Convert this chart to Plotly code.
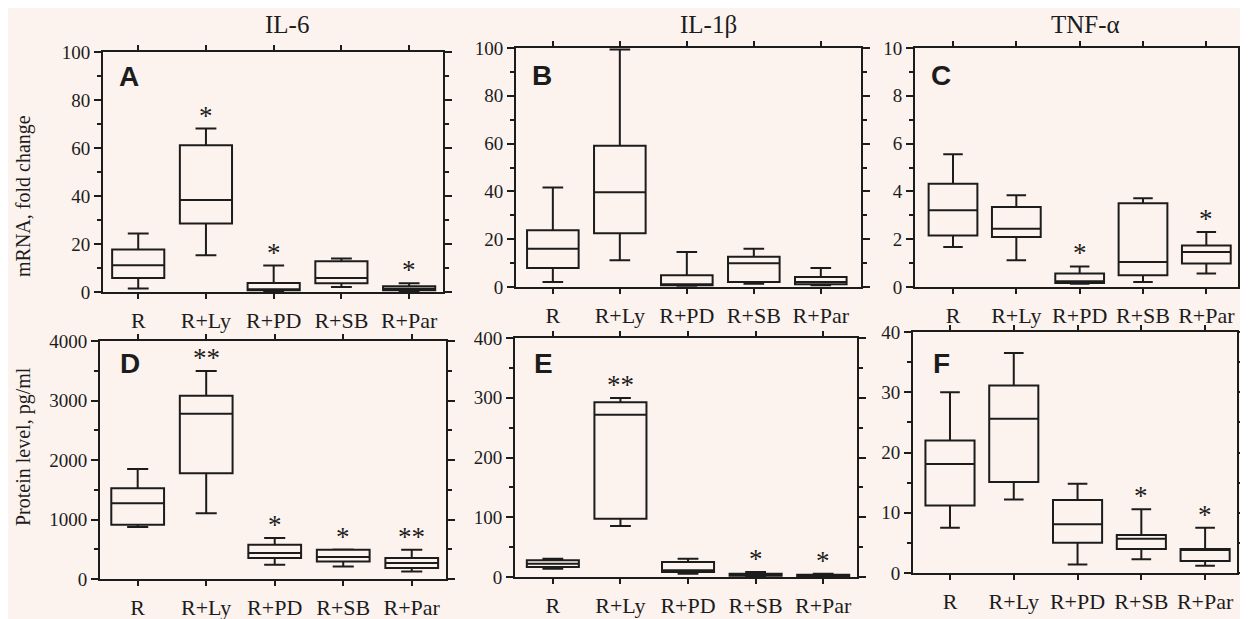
import plotly.graph_objects as go

# ---------------- data ----------------
categories = ["R", "R+Ly", "R+PD", "R+SB", "R+Par"]
col_titles = ["IL-6", "IL-1β", "TNF-α"]
panel_letters = ["A", "B", "C", "D", "E", "F"]
y_titles = ["mRNA, fold change", "Protein level, pg/ml"]

# each panel: lower whisker, q1, median, q3, upper whisker (per category)
A_low = [1.5, 15.3, 0.4, 2.1, 0.4]
A_q1 = [5.8, 28.5, 0.7, 3.6, 0.7]
A_med = [11.1, 38.3, 1.0, 5.8, 1.4]
A_q3 = [17.7, 61.1, 3.8, 12.8, 2.4]
A_up = [24.4, 68.1, 11.0, 14.0, 3.6]
A_stars = ["", "*", "*", "", "*"]

B_low = [2.1, 11.2, 0.5, 1.4, 0.7]
B_q1 = [8.0, 22.5, 0.7, 2.1, 1.1]
B_med = [16.0, 39.6, 1.0, 9.9, 2.1]
B_q3 = [23.7, 59.1, 4.9, 12.7, 4.2]
B_up = [41.6, 99.4, 14.6, 16.0, 8.0]
B_stars = ["", "", "", "", ""]

C_low = [1.67, 1.12, 0.14, 0.21, 0.56]
C_q1 = [2.16, 2.09, 0.17, 0.49, 0.98]
C_med = [3.21, 2.44, 0.24, 1.05, 1.46]
C_q3 = [4.32, 3.35, 0.56, 3.50, 1.74]
C_up = [5.55, 3.84, 0.86, 3.71, 2.30]
C_stars = ["", "", "*", "", "*"]

D_low = [872, 1106, 240, 212, 128]
D_q1 = [911, 1777, 352, 296, 184]
D_med = [1274, 2777, 436, 369, 268]
D_q3 = [1525, 3078, 575, 490, 352]
D_up = [1849, 3497, 687, 495, 492]
D_stars = ["", "**", "*", "*", "**"]

E_low = [13.9, 85.4, 5.6, 1.1, 1.1]
E_q1 = [16.7, 97.6, 8.4, 2.2, 1.7]
E_med = [22.3, 271.7, 11.2, 3.9, 2.8]
E_q3 = [27.9, 292.3, 25.1, 5.6, 3.9]
E_up = [30.7, 299.6, 30.7, 8.4, 5.6]
E_stars = ["", "**", "", "*", "*"]

F_low = [7.5, 12.2, 1.4, 2.3, 1.2]
F_q1 = [11.2, 15.1, 5.0, 4.0, 2.0]
F_med = [18.1, 25.6, 8.1, 5.7, 3.8]
F_q3 = [22.0, 31.1, 12.1, 6.3, 4.0]
F_up = [30.0, 36.5, 14.8, 10.6, 7.5]
F_stars = ["", "", "", "*", "*"]

y_ranges = [[0, 100], [0, 100], [0, 10], [0, 4000], [0, 400], [0, 40]]
y_dticks = [20, 20, 2, 1000, 100, 10]
y_minor = [10, 10, 1, 500, 50, 5]

panels = [
    (A_low, A_q1, A_med, A_q3, A_up, A_stars),
    (B_low, B_q1, B_med, B_q3, B_up, B_stars),
    (C_low, C_q1, C_med, C_q3, C_up, C_stars),
    (D_low, D_q1, D_med, D_q3, D_up, D_stars),
    (E_low, E_q1, E_med, E_q3, E_up, E_stars),
    (F_low, F_q1, F_med, F_q3, F_up, F_stars),
]

# ---------------- layout geometry (pixels, screen coords) ----------------
W, H = 1248, 619
OFF = 8  # page body margin offset
px_boxes = [  # x0, x1, ytop, ybottom
    (103, 443, 52, 292),
    (516, 861, 48, 287),
    (915, 1238, 48, 287),
    (100, 446, 341, 579),
    (515, 857, 338, 577),
    (913, 1237, 332, 573),
]
x_ranges = [[-0.52, 4.5], [-0.55, 4.6], [-0.6, 4.5],
            [-0.55, 4.5], [-0.56, 4.5], [-0.58, 4.5]]
letter_pos = [(0.041, 0.90), (0.04, 0.887), (0.043, 0.883),
              (0.052, 0.907), (0.05, 0.895), (0.056, 0.87)]

BG = "#fcf3ef"
INK = "#1c1c1c"
SERIF = "Liberation Serif, Times New Roman, serif"
SANS = "Liberation Sans, Arial, sans-serif"


def fx(p):
    return (p - OFF) / W


def fy(p):
    return 1 - (p - OFF) / H


fig = go.Figure()
annotations = []

for i, (low, q1, med, q3, up, stars) in enumerate(panels):
    n = i + 1
    xa = "x" if n == 1 else f"x{n}"
    ya = "y" if n == 1 else f"y{n}"
    fig.add_trace(go.Box(
        x=categories, q1=q1, median=med, q3=q3,
        lowerfence=low, upperfence=up,
        xaxis=xa, yaxis=ya,
        width=0.77, whiskerwidth=0.4,
        fillcolor="rgba(0,0,0,0)",
        line=dict(color=INK, width=2),
        boxpoints=False, showlegend=False, hoverinfo="skip",
    ))
    for c, s, u in zip(categories, stars, up):
        if s:
            annotations.append(dict(
                x=c, y=u, xref=xa, yref=ya, text=s, showarrow=False,
                yanchor="bottom", xanchor="center", yshift=-4,
                font=dict(family=SERIF, size=27, color=INK)))
    x0, x1, yt, yb = px_boxes[i]
    ax_key = "xaxis" if n == 1 else f"xaxis{n}"
    ay_key = "yaxis" if n == 1 else f"yaxis{n}"
    fig.update_layout({
        ax_key: dict(
            domain=[fx(x0), fx(x1)], anchor=ya, type="category",
            range=x_ranges[i], showline=True, linewidth=2, linecolor=INK,
            mirror="allticks", ticks="outside", ticklen=5, tickwidth=1.5,
            tickcolor=INK, showgrid=False, zeroline=False, automargin=False,
            ticklabelstandoff=3,
            tickfont=dict(family=SERIF, size=22, color=INK),
            categoryorder="array", categoryarray=categories,
        ),
        ay_key: dict(
            domain=[fy(yb), fy(yt)], anchor=xa, automargin=False,
            range=y_ranges[i], dtick=y_dticks[i], tick0=0,
            showline=True, linewidth=2, linecolor=INK,
            mirror="allticks", ticks="outside", ticklen=7, tickwidth=2,
            tickcolor=INK, showgrid=False, zeroline=False,
            tickfont=dict(family=SERIF, size=19, color=INK),
            minor=dict(dtick=y_minor[i], ticks="outside", ticklen=4,
                       tickwidth=1.5, tickcolor=INK, showgrid=False),
        ),
    })
    lx, ly = letter_pos[i]
    annotations.append(dict(
        x=lx, y=ly, xref=f"{xa} domain", yref=f"{ya} domain",
        text=f"<b>{panel_letters[i]}</b>", showarrow=False,
        xanchor="left", yanchor="middle",
        font=dict(family=SANS, size=28, color=INK)))

# column titles
title_x = [287, 708, 1085]
for t, cx in zip(col_titles, title_x):
    annotations.append(dict(
        x=fx(cx), y=fy(25), xref="paper", yref="paper", text=t,
        showarrow=False, xanchor="center", yanchor="middle",
        font=dict(family=SERIF, size=25, color=INK)))

# y-axis titles
for t, cy in zip(y_titles, [196, 447]):
    annotations.append(dict(
        x=fx(23), y=fy(cy), xref="paper", yref="paper", text=t,
        showarrow=False, xanchor="center", yanchor="middle", textangle=-90,
        font=dict(family=SERIF, size=20, color=INK)))

fig.update_layout(
    width=W, height=H, margin=dict(l=0, r=0, t=0, b=0, autoexpand=False),
    paper_bgcolor=BG, plot_bgcolor="rgba(0,0,0,0)",
    annotations=annotations,
)

fig.write_html("out.html", config={"displayModeBar": False})
